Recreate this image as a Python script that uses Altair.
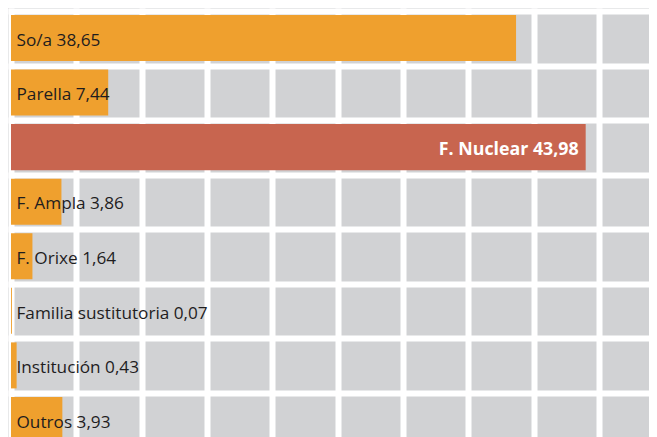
import altair as alt
import pandas as pd

# Data
categories = ["So/a", "Parella", "F. Nuclear", "F. Ampla", "F. Orixe",
              "Familia sustitutoria", "Institución", "Outros"]
values = [38.65, 7.44, 43.98, 3.86, 1.64, 0.07, 0.43, 3.93]
highlight = "F. Nuclear"

grid_x = [0, 5, 10, 15, 20, 25, 30, 35, 40, 45]
grid_y = [0, 1, 2, 3, 4, 5, 6, 7]

ORANGE = "#efa02e"
RED = "#c8654f"
GRAY = "#d1d2d4"
TEXT = "#1f1d1e"
FONT = "Open Sans"

rows = list(range(len(categories)))
df = pd.DataFrame({
    "cat": categories,
    "value": values,
    "row": rows,
    "top": [r + 0.073 for r in rows],
    "bottom": [r + 0.916 for r in rows],
    "base": [r + 0.636 for r in rows],
    "label": [c + " " + f"{v:.2f}".replace(".", ",") for c, v in zip(categories, values)],
    "hl": [c == highlight for c in categories],
})

W = 641
H = 429
xscale = alt.Scale(domain=[-3 / 13.067, (W - 3) / 13.067], nice=False, zero=False)
yscale = alt.Scale(domain=[-3 / 54.57, (H - 3) / 54.57], nice=False, zero=False, reverse=True)

xaxis = alt.Axis(values=grid_x, grid=True, gridColor="white", gridWidth=6, gridOpacity=1,
                 labels=False, ticks=False, domain=False, title=None)
yaxis = alt.Axis(values=grid_y, grid=True, gridColor="white", gridWidth=6, gridOpacity=1,
                 labels=False, ticks=False, domain=False, title=None)

base = alt.Chart(df)

bars = base.mark_rect().encode(
    x=alt.X("zero:Q", scale=xscale, axis=xaxis),
    x2=alt.X2("value:Q"),
    y=alt.Y("top:Q", scale=yscale, axis=yaxis),
    y2=alt.Y2("bottom:Q"),
    color=alt.Color("hl:N", scale=alt.Scale(domain=[False, True], range=[ORANGE, RED]), legend=None),
).transform_calculate(zero="0")

labels_left = base.transform_filter(alt.datum.hl == False).mark_text(
    align="left", baseline="alphabetic", dx=5.5, font=FONT, fontSize=17.2, color=TEXT
).encode(
    x=alt.X("zero:Q", scale=xscale, axis=xaxis),
    y=alt.Y("base:Q", scale=yscale, axis=yaxis),
    text="label:N",
).transform_calculate(zero="0")

labels_hl = base.transform_filter(alt.datum.hl == True).mark_text(
    align="right", baseline="alphabetic", dx=-7, font=FONT, fontSize=17.8,
    fontWeight="bold", color="white"
).encode(
    x=alt.X("value:Q", scale=xscale, axis=xaxis),
    y=alt.Y("base:Q", scale=yscale, axis=yaxis),
    text="label:N",
)

chart = alt.layer(bars, labels_left, labels_hl).properties(
    width=W, height=H,
    autosize=alt.AutoSizeParams(type="none"),
    padding=0,
).configure_view(fill=GRAY, strokeWidth=0, stroke=None)

chart.save("out.html", embed_options={"renderer": "svg", "actions": False})
